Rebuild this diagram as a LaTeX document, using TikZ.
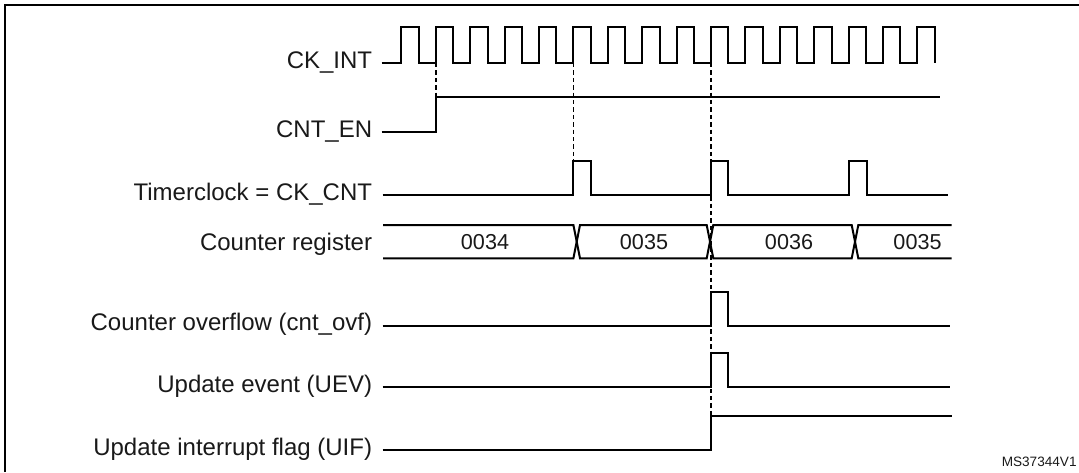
\documentclass[tikz,border=0pt]{standalone}
\usepackage{fontspec}
\setmainfont{Liberation Sans}
\begin{document}
\begin{tikzpicture}[x=0.5pt,y=-0.5pt,
  sig/.style={line width=1pt,line join=miter},
  guide/.style={line width=0.8pt,dash pattern=on 2.2pt off 1.5pt},
  lbl/.style={anchor=mid east,inner sep=0pt,font=\fontsize{12}{14}\selectfont,text=black!90},
  buslbl/.style={inner sep=0pt,font=\fontsize{10.8}{12}\selectfont,text=black!90},
  frame/.style={line width=1.2pt}]
\useasboundingbox (0,0) rectangle (1079,472);
% frame
\draw[frame] (5,472) -- (5,5) -- (1079,5);
% labels
\node[lbl] (lck)  at (372.5,63)    {CK\_INT};
\node[lbl] (len)  at (372.5,132)   {CNT\_EN};
\node[lbl] (ltc)  at (372.5,195)   {Timerclock = CK\_CNT};
\node[lbl] (lcr)  at (372.5,245.5) {Counter register};
\node[lbl] (lovf) at (372.5,325.5) {Counter overflow (cnt\_ovf)};
\node[lbl] (luev) at (372.5,387)   {Update event (UEV)};
\node[lbl] (luif) at (372.5,450)   {Update interrupt flag (UIF)};
% guide lines
\coordinate (ea) at (435.8,63);
\coordinate (eb) at (573.4,63);
\coordinate (ec) at (711,63);
\draw[guide] (ea) -- (435.8,97);
\draw[guide] (eb) -- (573.4,161);
\draw[guide] (ec) -- (711,416);
% CK_INT
\draw[sig] ([xshift=4.5pt]lck.mid east)
  \foreach \k in {0,...,15}{ -- ({401.4+34.4*\k},63) -- ({401.4+34.4*\k},27)
     -- ({418.8+34.4*\k},27) -- ({418.8+34.4*\k},63) };
% CNT_EN
\draw[sig] ([xshift=4.5pt]len.mid east) -- (435.8,132) -- (435.8,97) -- (940,97);
% Timerclock
\draw[sig] ([xshift=5pt]ltc.mid east) -- (573.4,195) -- (573.4,161) -- (590.6,161) -- (590.6,195)
  -- (711,195) -- (711,161) -- (727.5,161) -- (727.5,195)
  -- (849,195) -- (849,161) -- (867,161) -- (867,195) -- (948,195);
% Counter register bus
\coordinate (bs) at (383,225);
\draw[sig] (bs) -- (573.4,225) -- (580,258.3) -- (706.7,258.3) -- (713.3,225)
  -- (851.7,225) -- (858.3,258.3) -- (951.7,258.3);
\draw[sig] (bs |- 0,258.3) -- (573.4,258.3) -- (580,225) -- (706.7,225) -- (713.3,258.3)
  -- (851.7,258.3) -- (858.3,225) -- (951.7,225);
\node[buslbl] (b1) at (485,241.7) {0034};
\node[buslbl] (b2) at (644,241.7) {0035};
\node[buslbl] (b3) at (789,241.7) {0036};
\node[buslbl] (b4) at (917.5,241.7) {0035};
% Counter overflow
\draw[sig] ([xshift=5pt]lovf.mid east) -- (711,325.5) -- (711,291.5) -- (727.5,291.5) -- (727.5,325.5) -- (950,325.5);
% UEV
\draw[sig] ([xshift=5pt]luev.mid east) -- (711,387) -- (711,352.5) -- (727.5,352.5) -- (727.5,387) -- (950,387);
% UIF
\draw[sig] ([xshift=5pt]luif.mid east) -- (711,450) -- (711,416) -- (951.7,416);
% reference code
\node[anchor=east,inner sep=0pt,font=\fontsize{6.8}{8}\selectfont,text=black!90] (ref) at (1077,461.7) {MS37344V1};
\end{tikzpicture}
\end{document}
